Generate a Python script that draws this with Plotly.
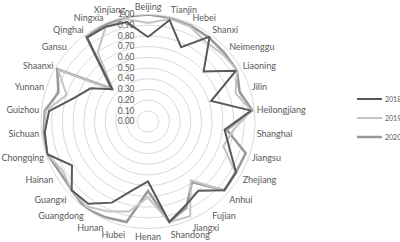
import plotly.graph_objects as go

provinces = ["Beijing", "Tianjin", "Hebei", "Shanxi", "Neimenggu", "Liaoning", "Jilin",
             "Heilongjiang", "Shanghai", "Jiangsu", "Zhejiang", "Anhui", "Fujian", "Jiangxi",
             "Shandong", "Henan", "Hubei", "Hunan", "Guangdong", "Guangxi", "Hainan",
             "Chongqing", "Sichuan", "Guizhou", "Yunnan", "Shaanxi", "Gansu", "Qinghai",
             "Ningxia", "Xinjiang"]

v2018 = [0.79, 0.97, 0.76, 0.98, 0.70, 0.95, 0.62, 0.97, 0.72, 0.80, 0.95, 0.96, 0.80, 0.86,
         0.96, 0.56, 0.65, 0.83, 0.95, 0.96, 0.82, 0.99, 0.97, 0.93, 0.72, 0.62, 0.45, 0.97,
         0.97, 0.95]
v2019 = [0.92, 0.98, 0.97, 0.92, 0.94, 0.96, 0.86, 0.97, 0.80, 0.74, 0.94, 0.96, 0.68, 0.97,
         0.96, 0.71, 0.86, 0.92, 0.98, 0.96, 0.92, 0.99, 0.97, 0.96, 0.80, 0.97, 0.44, 0.80,
         0.97, 0.98]
v2020 = [1.00, 0.99, 0.98, 0.97, 0.96, 0.96, 0.90, 0.98, 0.74, 0.96, 0.95, 0.96, 0.70, 0.88,
         0.96, 0.65, 0.96, 0.98, 1.00, 0.96, 0.95, 0.99, 0.98, 0.97, 0.88, 0.98, 0.46, 0.98,
         0.99, 1.00]

years = ["2018", "2019", "2020"]
series = {"2018": v2018, "2019": v2019, "2020": v2020}
colors = {"2018": "#595959", "2019": "#c4c4c4", "2020": "#999999"}
widths = {"2018": 2, "2019": 2, "2020": 2.5}

tick_vals = [i / 10 for i in range(11)]
tick_text = ["%.2f" % t for t in tick_vals]

fig = go.Figure()
for y in ["2020", "2019", "2018"]:
    vals = series[y]
    fig.add_trace(go.Scatterpolar(
        r=vals + [vals[0]],
        theta=provinces + [provinces[0]],
        mode="lines",
        name=y,
        showlegend=False,
        line=dict(color=colors[y], width=widths[y]),
    ))

W, H = 400, 242
cx, cy, R = 148, 121.5, 107
fig.update_layout(
    width=W, height=H,
    margin=dict(l=0, r=0, t=0, b=0),
    paper_bgcolor="white",
    plot_bgcolor="white",
    font=dict(family="Lato, Open Sans, sans-serif", color="#595959"),
    polar=dict(
        domain=dict(x=[(cx - R) / W, (cx + R) / W],
                    y=[(H - cy - R) / H, (H - cy + R) / H]),
        bgcolor="white",
        angularaxis=dict(
            rotation=90, direction="clockwise",
            showgrid=False, showline=True, linecolor="#d9d9d9", linewidth=1,
            ticks="", tickfont=dict(size=9, color="#595959"),
        ),
        radialaxis=dict(
            range=[0, 1], tickvals=tick_vals, ticktext=tick_text,
            angle=90, tickangle=90, side="counterclockwise",
            showline=False, showgrid=True, gridcolor="#d9d9d9", gridwidth=1,
            ticks="outside", ticklen=10, tickcolor="rgba(0,0,0,0)",
            tickfont=dict(size=8.5, color="#595959"),
        ),
    ),
    showlegend=False,
)

# manual legend (right side)
leg_x0, leg_x1, leg_tx = 357 / W, 382 / W, 384 / W
leg_y = [99, 118, 137]
for y, ypix in zip(years, leg_y):
    yp = 1 - ypix / H
    fig.add_shape(type="line", xref="paper", yref="paper",
                  x0=leg_x0, x1=leg_x1, y0=yp, y1=yp,
                  line=dict(color=colors[y], width=widths[y]))
    fig.add_annotation(xref="paper", yref="paper", x=leg_tx, y=yp,
                       text=y, showarrow=False, xanchor="left", yanchor="middle",
                       borderpad=0, font=dict(size=7, color="#595959"))

fig.write_html("out.html", config={"displayModeBar": False},
               post_script="document.body.style.margin='0';")
